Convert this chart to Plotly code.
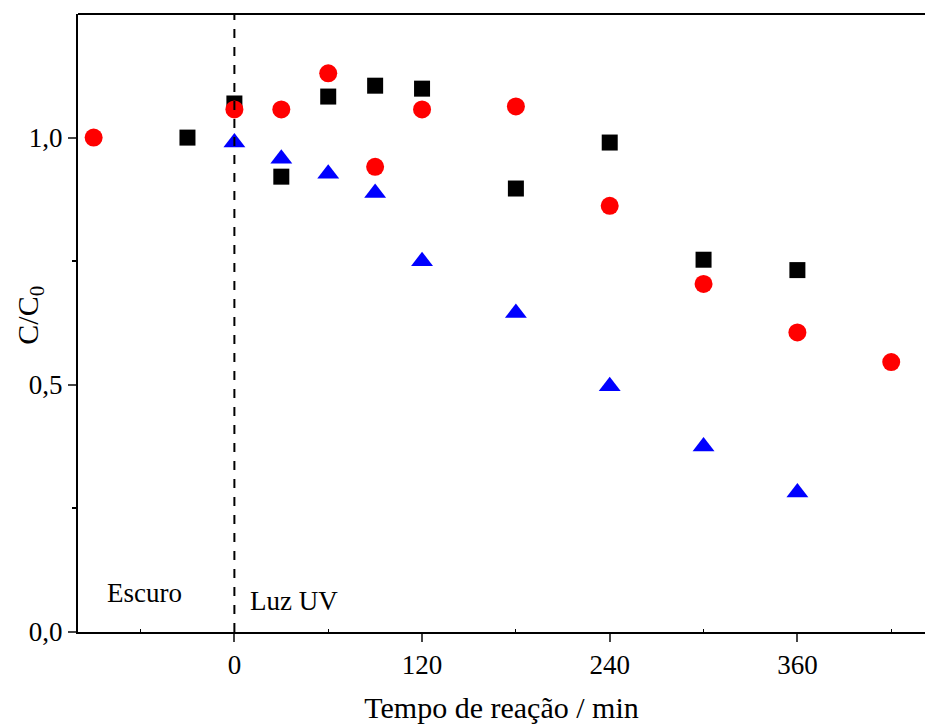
import plotly.graph_objects as go

# Reaction time (min) and normalised concentration C/C0 for three runs
t_square = [-30, 0, 30, 60, 90, 120, 180, 240, 300, 360]
c_square = [1.000, 1.069, 0.921, 1.083, 1.105, 1.099, 0.897, 0.990, 0.753, 0.732]

t_circle = [-90, 0, 30, 60, 90, 120, 180, 240, 300, 360, 420]
c_circle = [1.000, 1.057, 1.057, 1.130, 0.941, 1.057, 1.063, 0.862, 0.704, 0.606, 0.546]

t_triangle = [0, 30, 60, 90, 120, 180, 240, 300, 360]
c_triangle = [0.990, 0.957, 0.927, 0.888, 0.750, 0.645, 0.497, 0.375, 0.282]

x_ticks = [0, 120, 240, 360]
y_ticks = [0.0, 0.5, 1.0]
y_tick_text = ["0,0", "0,5", "1,0"]

FONT = "Liberation Serif, Times New Roman, serif"

fig = go.Figure()
fig.add_trace(go.Scatter(x=t_square, y=c_square, mode="markers",
                         marker=dict(symbol="square", size=16, color="black")))
fig.add_trace(go.Scatter(x=t_circle, y=c_circle, mode="markers",
                         marker=dict(symbol="circle", size=18, color="#ff0000")))
fig.add_trace(go.Scatter(x=t_triangle, y=c_triangle, mode="markers",
                         marker=dict(symbol="triangle-up", size=19, color="#0000ff")))

# Start of UV irradiation
fig.add_shape(type="line", xref="x", yref="paper", x0=0, x1=0, y0=0, y1=1,
              line=dict(color="black", width=2, dash="dash"))
# Top frame line, running off the right edge
fig.add_shape(type="line", xref="paper", yref="paper", x0=0, x1=1.05, y0=1, y1=1,
              line=dict(color="black", width=2))

fig.add_annotation(x=-83, y=0.078, xref="x", yref="y", text="Escuro",
                   showarrow=False, xanchor="left", font=dict(family=FONT, size=27, color="black"))
fig.add_annotation(x=9, y=0.063, xref="x", yref="y", text="Luz UV",
                   showarrow=False, xanchor="left", font=dict(family=FONT, size=27, color="black"))
# Y-axis title
fig.add_annotation(x=-0.057, y=0.513, xref="paper", yref="paper", text="C/C<sub>0</sub>",
                   textangle=-90, showarrow=False, xanchor="center", yanchor="middle",
                   font=dict(family=FONT, size=30, color="black"))

fig.update_layout(
    width=925, height=724,
    margin=dict(l=78, r=0, t=14, b=92),
    paper_bgcolor="white", plot_bgcolor="white",
    showlegend=False,
    font=dict(family=FONT, size=26, color="black"),
)
fig.update_xaxes(
    range=[-100, 441.6], tickvals=x_ticks, ticks="outside", ticklen=8, tickwidth=2,
    showline=True, linecolor="black", linewidth=2, mirror=False,
    showgrid=False, zeroline=False, automargin=False,
    tickfont=dict(family=FONT, size=27),
    minor=dict(tickvals=[-60, 60, 180, 300, 420], ticks="inside", ticklen=3,
               tickcolor="black", tickwidth=1, showgrid=False),
    title=dict(text="Tempo de reação / min", font=dict(family=FONT, size=30), standoff=22),
)
fig.update_yaxes(
    range=[0, 1.25], tickvals=y_ticks, ticktext=y_tick_text, ticks="outside", ticklen=8, tickwidth=2,
    showline=True, linecolor="black", linewidth=2, mirror=False,
    showgrid=False, zeroline=False, automargin=False,
    tickfont=dict(family=FONT, size=27),
    minor=dict(tickvals=[0.25, 0.75], ticks="outside", ticklen=4,
               tickcolor="black", tickwidth=2, showgrid=False),
)

fig.write_html("out.html")
